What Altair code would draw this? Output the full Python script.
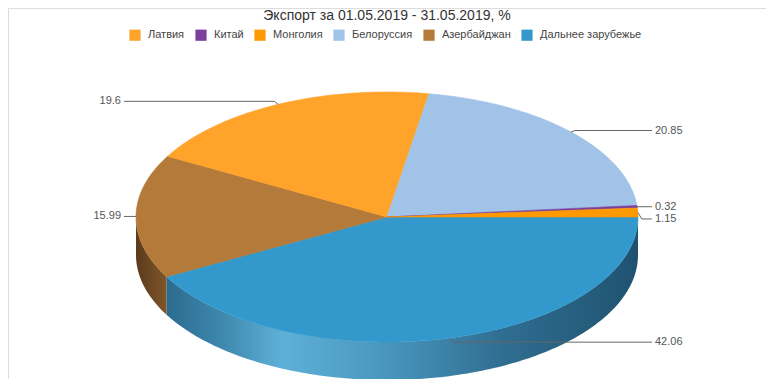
import math
import altair as alt
import pandas as pd

# ---------------- data ----------------
categories = ["Латвия", "Китай", "Монголия", "Белоруссия", "Азербайджан", "Дальнее зарубежье"]
shares = [19.6, 0.32, 1.15, 20.85, 15.99, 42.06]
label_texts = ["19.6", "0.32", "1.15", "20.85", "15.99", "42.06"]
pie_order = ["Дальнее зарубежье", "Азербайджан", "Латвия", "Белоруссия", "Китай", "Монголия"]
colors = ["#ffa32b", "#7a3f9a", "#ff9900", "#a1c3e7", "#b37a39", "#3399cc"]
title_text = "Экспорт за 01.05.2019 - 31.05.2019, %"

# ---------------- style / geometry ----------------
W, H = 758, 371
CX, CY, RX, RY, DEPTH = 387, 217, 251, 125, 38
LEFT_LINE_END, RIGHT_LINE_END = 124, 652
LABEL_GAP = 3
ELBOW_DX = 4
LABEL_NUDGE = {"Дальнее зарубежье": 4, "Латвия": -3, "Белоруссия": -1.5, "Монголия": 6.5}
WALL_GRADIENTS = {
    "Дальнее зарубежье": [(0.0, "#2b6b8f"), (0.12, "#3f88ae"), (0.245, "#5eb0d8"),
                          (0.45, "#4a98c0"), (0.72, "#2f6d90"), (1.0, "#1f5270")],
    "Азербайджан": [(0.0, "#5a3b1c"), (1.0, "#7f552b")],
    "Монголия": [(0.0, "#b36b00"), (1.0, "#b36b00")],
}
FONT = "Liberation Sans"

value_of = dict(zip(categories, shares))
text_of = dict(zip(categories, label_texts))
total = sum(shares)


def pt(t_deg, dy=0.0):
    t = math.radians(t_deg)
    return CX + RX * math.cos(t), CY + RY * math.sin(t) + dy


def arc_angles(a, b):
    n = max(2, int(math.ceil(b - a)) + 1)
    return [a + (b - a) * k / (n - 1) for k in range(n)]


top_rows, wall_rows, leader_rows, label_rows = [], [], [], []
start = 0.0
for cat in pie_order:
    sweep = value_of[cat] / total * 360.0
    a, b = start, start + sweep
    start = b
    i = 0
    top_rows.append({"cat": cat, "i": i, "x": CX, "y": CY})
    for t in arc_angles(a, b):
        i += 1
        x, y = pt(t)
        top_rows.append({"cat": cat, "i": i, "x": x, "y": y})
    wa, wb = max(a, 0.0), min(b, 180.0)
    if wb > wa:
        ang = arc_angles(wa, wb)
        j = 0
        for t in ang:
            x, y = pt(t)
            wall_rows.append({"cat": cat, "i": j, "x": x, "y": y}); j += 1
        for t in reversed(ang):
            x, y = pt(t, DEPTH)
            wall_rows.append({"cat": cat, "i": j, "x": x, "y": y}); j += 1
    mid = (a + b) / 2
    ax, ay = pt(mid)
    side = 1 if math.cos(math.radians(mid)) >= 0 else -1
    ly = ay + LABEL_NUDGE.get(cat, 0)
    end_x = RIGHT_LINE_END if side > 0 else LEFT_LINE_END
    for k, (x, y) in enumerate([(ax, ay), (ax + side * ELBOW_DX, ly), (end_x, ly)]):
        leader_rows.append({"cat": cat, "k": k, "x": x, "y": y})
    label_rows.append({"cat": cat, "x": end_x + side * LABEL_GAP, "y": ly,
                       "text": text_of[cat], "side": "right" if side > 0 else "left"})

top_df = pd.DataFrame(top_rows)
wall_df = pd.DataFrame(wall_rows)
leader_df = pd.DataFrame(leader_rows)
label_df = pd.DataFrame(label_rows)

xs = alt.Scale(domain=[8, 8 + W], nice=False, zero=False)
ys = alt.Scale(domain=[8, 8 + H], nice=False, zero=False, reverse=True)
X = alt.X("x:Q", scale=xs, axis=None)
Y = alt.Y("y:Q", scale=ys, axis=None)

layers = []
for cat in wall_df["cat"].unique():
    stops = WALL_GRADIENTS.get(cat, [(0, "#555"), (1, "#555")])
    grad = alt.Gradient(gradient="linear", x1=0, x2=1, y1=0, y2=0,
                        stops=[alt.GradientStop(offset=o, color=c) for o, c in stops])
    layers.append(
        alt.Chart(wall_df[wall_df["cat"] == cat])
        .mark_line(filled=True, interpolate="linear-closed", fill=grad)
        .encode(x=X, y=Y, order="i:Q")
    )

color_scale = alt.Scale(domain=categories, range=colors)
tops = (
    alt.Chart(top_df)
    .mark_line(filled=True, interpolate="linear-closed", strokeWidth=0.6)
    .encode(
        x=X, y=Y, order="i:Q",
        color=alt.Color("cat:N", scale=color_scale, legend=alt.Legend(
            orient="none", legendX=121, legendY=21, direction="horizontal", columns=6,
            title=None, symbolType="square", symbolSize=125, symbolStrokeWidth=0,
            labelFont=FONT, labelFontSize=11, labelColor="#444", labelOffset=7,
            columnPadding=10, padding=0, symbolOpacity=1)),
        stroke=alt.Stroke("cat:N", scale=alt.Scale(domain=categories, range=colors), legend=None),
    )
)
layers.append(tops)

leaders = (
    alt.Chart(leader_df)
    .mark_line(color="#666666", strokeWidth=1)
    .encode(x=X, y=Y, detail="cat:N", order="k:Q")
)
layers.append(leaders)

for side in ["left", "right"]:
    layers.append(
        alt.Chart(label_df[label_df["side"] == side])
        .mark_text(align="right" if side == "left" else "left", baseline="middle",
                   font=FONT, fontSize=11, color="#555555")
        .encode(x=X, y=Y, text="text:N")
    )

title_df = pd.DataFrame({"t": [title_text]})
layers.append(
    alt.Chart(title_df)
    .mark_text(align="center", baseline="middle", font=FONT, fontSize=14, color="#333333")
    .encode(text="t:N", x=alt.value(CX - 8), y=alt.value(8))
)

chart = (
    alt.layer(*layers)
    .properties(width=W, height=H, autosize=alt.AutoSizeParams(type="none"), padding=0,
                background="white")
    .configure_view(stroke="transparent", strokeWidth=0, fill="white")
    .configure(font=FONT)
)

chart.save("out.html", embed_options={"renderer": "svg", "actions": False})
